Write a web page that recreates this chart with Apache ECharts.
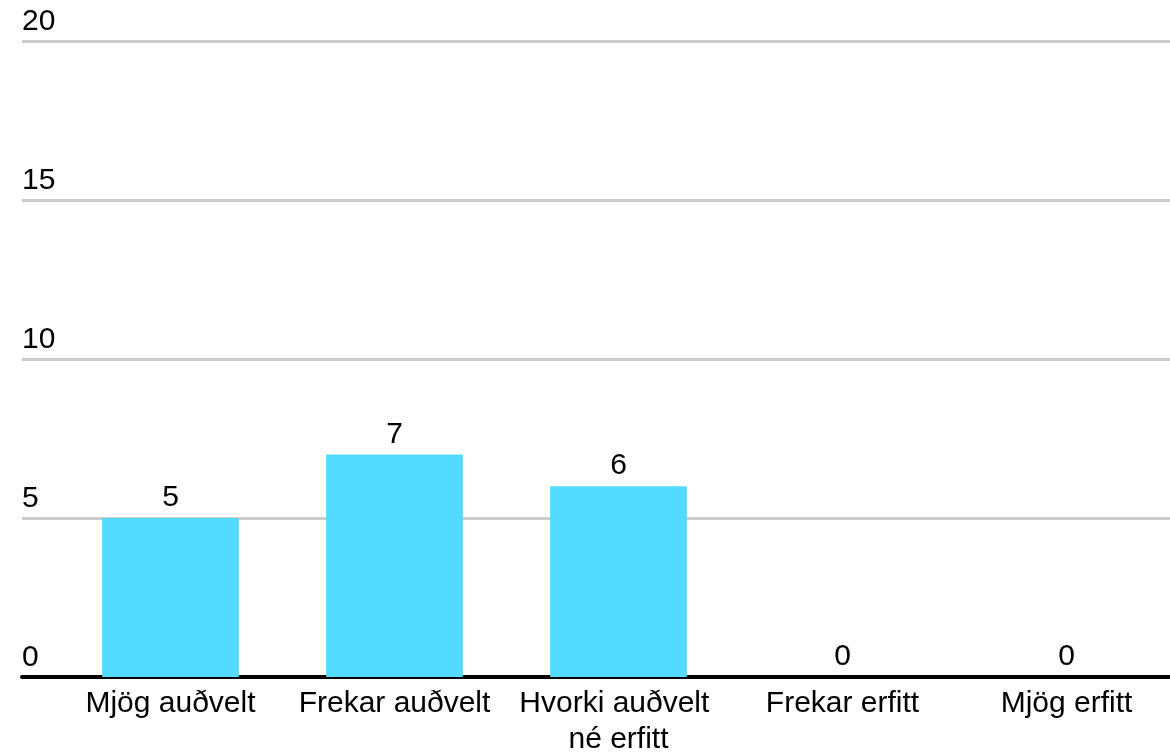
<!DOCTYPE html>
<html>
<head>
<meta charset="utf-8">
<style>
  html, body { margin: 0; padding: 0; background: #fff; }
  #chart { width: 1170px; height: 755px; }
</style>
<script src="https://cdn.jsdelivr.net/npm/echarts@6/dist/echarts.min.js"></script>
</head>
<body>
<div id="chart"></div>
<script>
var categories = ['Mjög auðvelt', 'Frekar auðvelt', 'Hvorki auðvelt né erfitt', 'Frekar erfitt', 'Mjög erfitt'];
var counts = [5, 7, 6, 0, 0];
var yMin = 0;
var yMax = 20;
var yStep = 5;

(function () {
  var chart = echarts.init(document.getElementById('chart'));
  var font = "'Liberation Sans', Arial, sans-serif";
  var fontSize = 30;

  var option = {
    backgroundColor: '#fff',
    animation: false,
    textStyle: { fontFamily: font },
    grid: [
      // gridlines + y labels span the full width
      { left: 22, right: 0, top: 41, bottom: 78, outerBoundsMode: 'none' },
      // bars sit in their own band
      { left: 58.5, right: -8.5, top: 41, bottom: 78, outerBoundsMode: 'none' }
    ],
    xAxis: [
      {
        gridIndex: 0,
        type: 'category',
        data: categories,
        axisLine: { show: true, lineStyle: { color: '#000', width: 4 } },
        axisTick: { show: false },
        axisLabel: { show: false }
      },
      {
        gridIndex: 1,
        type: 'category',
        data: categories,
        axisLine: { show: false },
        axisTick: { show: false },
        axisLabel: {
          interval: 0,
          color: '#000',
          fontFamily: font,
          fontSize: fontSize,
          margin: 9,
          width: 215,
          overflow: 'break',
          lineHeight: 36
        }
      }
    ],
    yAxis: [
      {
        gridIndex: 0,
        type: 'value',
        min: yMin,
        max: yMax,
        interval: yStep,
        axisLine: { show: false },
        axisTick: { show: false },
        axisLabel: {
          inside: true,
          align: 'left',
          verticalAlign: 'bottom',
          margin: 0,
          padding: [0, 0, 4, 0],
          color: '#000',
          fontFamily: font,
          fontSize: fontSize
        },
        splitLine: { lineStyle: { color: '#cccccc', width: 3 } }
      },
      {
        gridIndex: 1,
        type: 'value',
        min: yMin,
        max: yMax,
        interval: yStep,
        show: false,
        splitLine: { show: false }
      }
    ],
    series: [
      {
        type: 'bar',
        xAxisIndex: 1,
        yAxisIndex: 1,
        data: counts,
        barWidth: '61%',
        itemStyle: { color: '#52daff' },
        label: {
          show: true,
          position: 'top',
          distance: 5,
          color: '#000',
          fontFamily: font,
          fontSize: fontSize
        }
      }
    ]
  };

  chart.setOption(option);
})();
</script>
</body>
</html>
